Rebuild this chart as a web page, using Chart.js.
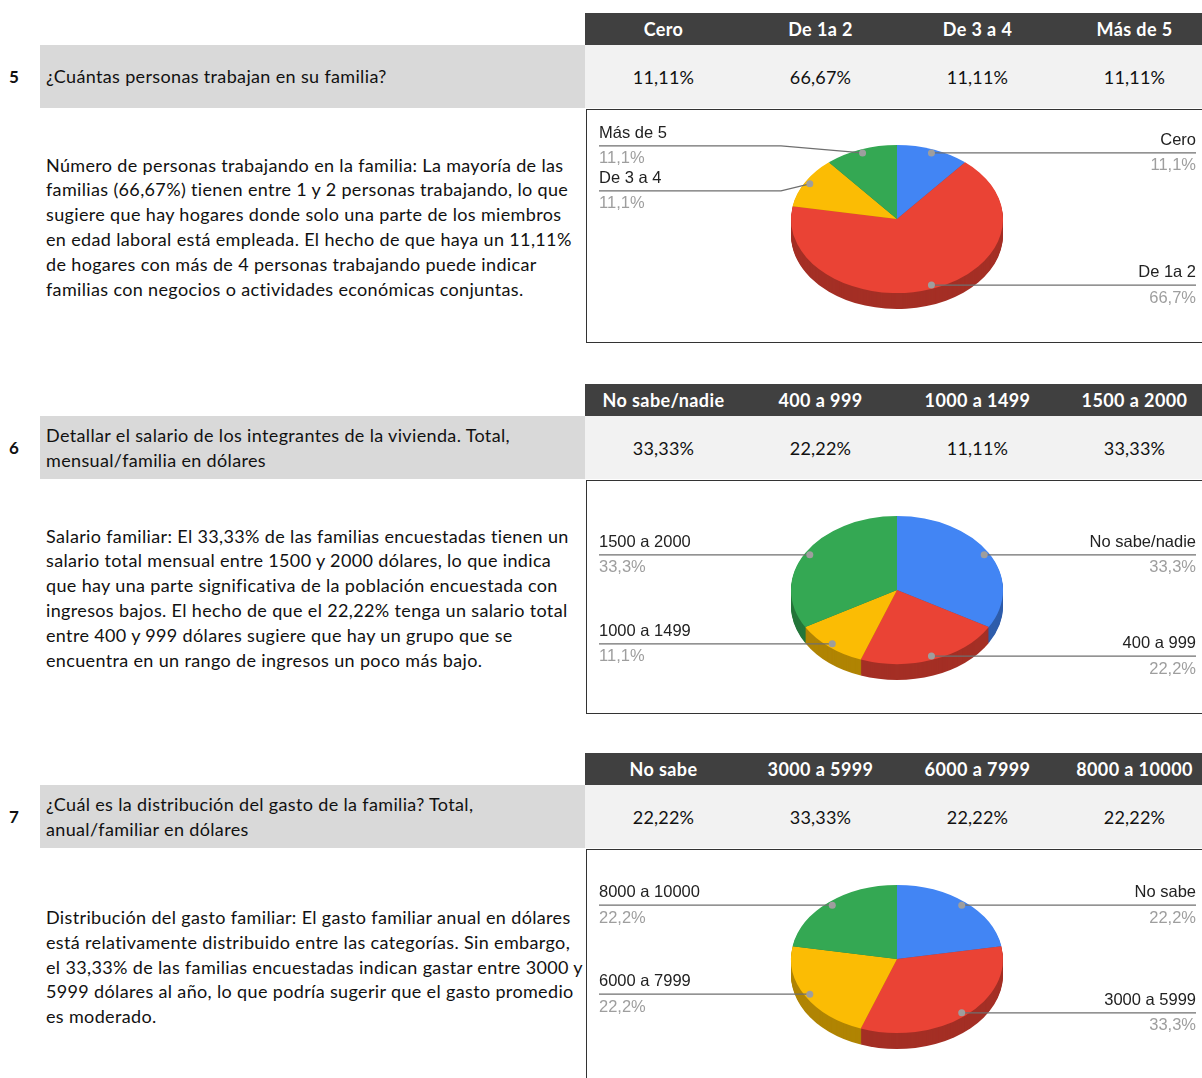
<!DOCTYPE html>
<html>
<head>
<meta charset="utf-8">
<script src="https://cdn.jsdelivr.net/npm/chart.js@4.4.0/dist/chart.umd.min.js"></script>
<style>
  body { margin: 0; width: 1202px; height: 1078px; overflow: hidden; background: #fff; font-family: Lato, "Open Sans", sans-serif; color: #111; position: relative; }
  .num { position: absolute; left: 0; width: 28px; height: 63px; display: flex; align-items: center; justify-content: center; font-weight: bold; font-size: 17px; }
  .question { position: absolute; left: 40px; width: 545px; height: 63px; background: #d9d9d9; display: flex; align-items: center; padding-left: 6px; box-sizing: border-box; font-size: 18px; letter-spacing: 0.35px; line-height: 24.5px; white-space: nowrap; }
  .head, .vals { position: absolute; left: 585px; width: 628px; display: flex; }
  .head { height: 32px; background: #404040; color: #fff; font-weight: bold; font-size: 18px; letter-spacing: 0.4px; }
  .vals { height: 63px; background: #f2f2f2; font-size: 18px; letter-spacing: 0.2px; }
  .head div, .vals div { width: 157px; display: flex; align-items: center; justify-content: center; }
  .para { position: absolute; left: 46px; width: 540px; height: 234px; display: flex; align-items: center; font-size: 18px; letter-spacing: 0.35px; line-height: 24.8px; white-space: nowrap; }
  .box { position: absolute; left: 586px; width: 640px; height: 234px; border: 1.5px solid #333; box-sizing: border-box; }
  canvas { position: absolute; }
</style>
</head>
<body>
<script>
const q5Labels = ['Cero', 'De 1a 2', 'De 3 a 4', 'Más de 5'];
const q5Values = [11.11, 66.67, 11.11, 11.11];
const q6Labels = ['No sabe/nadie', '400 a 999', '1000 a 1499', '1500 a 2000'];
const q6Values = [33.33, 22.22, 11.11, 33.33];
const q7Labels = ['No sabe', '3000 a 5999', '6000 a 7999', '8000 a 10000'];
const q7Values = [22.22, 33.33, 22.22, 22.22];
const sliceColors = ['#4285f4', '#ea4335', '#fbbc04', '#34a853'];

const questions = [
  '¿Cuántas personas trabajan en su familia?',
  'Detallar el salario de los integrantes de la vivienda. Total,<br>mensual/familia en dólares',
  '¿Cuál es la distribución del gasto de la familia? Total,<br>anual/familiar en dólares'
];
const paragraphs = [
  'Número de personas trabajando en la familia: La mayoría de las<br>familias (66,67%) tienen entre 1 y 2 personas trabajando, lo que<br>sugiere que hay hogares donde solo una parte de los miembros<br>en edad laboral está empleada. El hecho de que haya un 11,11%<br>de hogares con más de 4 personas trabajando puede indicar<br>familias con negocios o actividades económicas conjuntas.',
  'Salario familiar: El 33,33% de las familias encuestadas tienen un<br>salario total mensual entre 1500 y 2000 dólares, lo que indica<br>que hay una parte significativa de la población encuestada con<br>ingresos bajos. El hecho de que el 22,22% tenga un salario total<br>entre 400 y 999 dólares sugiere que hay un grupo que se<br>encuentra en un rango de ingresos un poco más bajo.',
  'Distribución del gasto familiar: El gasto familiar anual en dólares<br>está relativamente distribuido entre las categorías. Sin embargo,<br>el 33,33% de las familias encuestadas indican gastar entre 3000 y<br>5999 dólares al año, lo que podría sugerir que el gasto promedio<br>es moderado.'
];
const numbers = ['5', '6', '7'];
const tops = [13, 384, 753];

const TILT = 74 / 106;
const DEPTH = 16;

function shade(hex) {
  const n = parseInt(hex.slice(1), 16);
  const r = Math.round((n >> 16) * 0.7), g = Math.round(((n >> 8) & 255) * 0.7), b = Math.round((n & 255) * 0.7);
  return `rgb(${r},${g},${b})`;
}

const pct = v => v.toFixed(2).replace('.', ',') + '%';

const pie3d = {
  id: 'pie3d',
  beforeDatasetsDraw(chart) {
    const ctx = chart.ctx;
    const arcs = chart.getDatasetMeta(0).data;
    const { x, y, outerRadius: R } = arcs[0];
    const colors = chart.data.datasets[0].backgroundColor;
    ctx.save();
    for (let d = DEPTH; d >= 1; d--) {
      arcs.forEach((a, i) => {
        ctx.beginPath();
        ctx.moveTo(x, y + d);
        ctx.ellipse(x, y + d, R, R * TILT, 0, a.startAngle, a.endAngle);
        ctx.closePath();
        ctx.fillStyle = shade(colors[i]);
        ctx.fill();
      });
    }
    ctx.restore();
    ctx.save();
    ctx.translate(x, y);
    ctx.scale(1, TILT);
    ctx.translate(-x, -y);
  },
  afterDatasetsDraw(chart) {
    const ctx = chart.ctx;
    ctx.restore();
    const arcs = chart.getDatasetMeta(0).data;
    const { x, y, outerRadius: R } = arcs[0];
    const values = chart.data.datasets[0].data;
    const total = values.reduce((s, v) => s + v, 0);
    const W = chart.width;
    const items = arcs.map((a, i) => {
      const mid = (a.startAngle + a.endAngle) / 2;
      const dx = x + 0.95 * R * Math.cos(mid);
      const dy = y + 0.95 * R * TILT * Math.sin(mid);
      return { label: chart.data.labels[i], share: (values[i] / total * 100).toFixed(1).replace('.', ',') + '%',
        dx, dy, ly: dy, right: Math.cos(mid) >= 0 };
    });
    [true, false].forEach(side => {
      const group = items.filter(it => it.right === side).sort((a, b) => a.dy - b.dy);
      for (let iter = 0; iter < 50; iter++) {
        for (let j = 1; j < group.length; j++) {
          const gap = group[j].ly - group[j - 1].ly;
          if (gap < 45) { const m = (45 - gap) / 2; group[j].ly += m; group[j - 1].ly -= m; }
        }
      }
    });
    items.forEach(it => {
      ctx.save();
      ctx.strokeStyle = '#6f6f6f';
      ctx.lineWidth = 1.3;
      ctx.beginPath();
      if (it.right) {
        ctx.moveTo(W - 6, it.ly); ctx.lineTo(x + R + 10, it.ly); ctx.lineTo(it.dx, it.dy);
      } else {
        ctx.moveTo(12, it.ly); ctx.lineTo(x - R - 10, it.ly); ctx.lineTo(it.dx, it.dy);
      }
      ctx.stroke();
      ctx.fillStyle = '#9e9e9e';
      ctx.beginPath(); ctx.arc(it.dx, it.dy, 3.5, 0, Math.PI * 2); ctx.fill();
      ctx.font = '16.5px "Liberation Sans", Arial, sans-serif';
      ctx.textBaseline = 'middle';
      ctx.textAlign = it.right ? 'right' : 'left';
      const tx = it.right ? W - 6 : 12;
      ctx.fillStyle = '#222';
      ctx.fillText(it.label, tx, it.ly - 12.5);
      ctx.fillStyle = '#9e9e9e';
      ctx.fillText(it.share, tx, it.ly + 13);
      ctx.restore();
    });
  }
};

function addSection(idx, labels, values) {
  const T = tops[idx];
  const html = `
    <div class="head" style="top:${T}px">${labels.map(l => `<div>${l}</div>`).join('')}</div>
    <div class="num" style="top:${T + 32}px">${numbers[idx]}</div>
    <div class="question" style="top:${T + 32}px"><span>${questions[idx]}</span></div>
    <div class="vals" style="top:${T + 32}px">${values.map(v => `<div>${pct(v)}</div>`).join('')}</div>
    <div class="para" style="top:${T + 97}px"><span>${paragraphs[idx]}</span></div>
    <div class="box" style="top:${T + 96}px"></div>`;
  document.body.insertAdjacentHTML('beforeend', html);
  const canvas = document.createElement('canvas');
  canvas.width = 615; canvas.height = 232;
  canvas.style.left = '587px';
  canvas.style.top = (T + 97) + 'px';
  document.body.appendChild(canvas);
  new Chart(canvas, {
    type: 'pie',
    data: {
      labels: labels,
      datasets: [{ data: values, backgroundColor: sliceColors, borderWidth: 0, clip: false }]
    },
    options: {
      responsive: false,
      animation: false,
      layout: { padding: { left: 204, right: 199, top: 3, bottom: 17 } },
      plugins: { legend: { display: false }, tooltip: { enabled: false } }
    },
    plugins: [pie3d]
  });
}

addSection(0, q5Labels, q5Values);
addSection(1, q6Labels, q6Values);
addSection(2, q7Labels, q7Values);
</script>
</body>
</html>
